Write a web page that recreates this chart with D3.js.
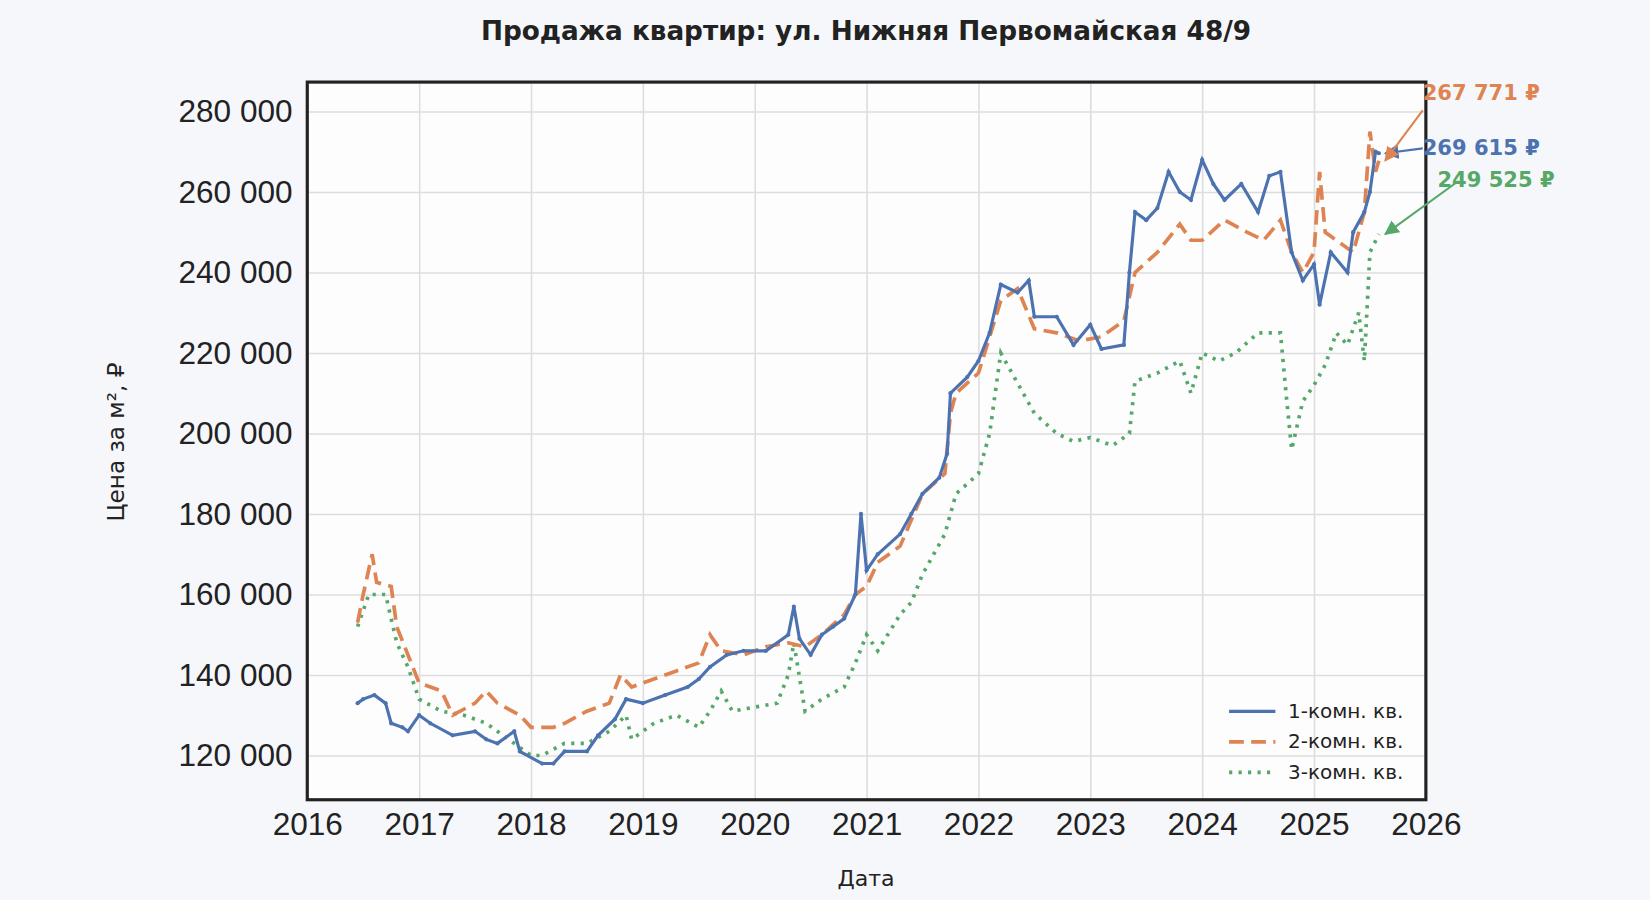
<!DOCTYPE html><html><head><meta charset="utf-8">
<script src="https://cdn.jsdelivr.net/npm/d3@7"></script>
<style>body{margin:0;background:#f6f7fb;font-family:"DejaVu Sans",sans-serif}</style></head><body>
<svg id="c" width="1650" height="900"></svg>
<script>
const yearTicks=[2016,2017,2018,2019,2020,2021,2022,2023,2024,2025,2026];
const priceTicks=[120000,140000,160000,180000,200000,220000,240000,260000,280000];
const seriesNames=["1-комн. кв.","2-комн. кв.","3-комн. кв."];
const colors=["#4c72b0","#dd8452","#55a868"];
const s1=[[2016.45,133000],[2016.5,134000],[2016.6,135000],[2016.7,133000],[2016.75,128000],[2016.85,127000],[2016.9,126000],[2017.0,130000],[2017.1,128000],[2017.3,125000],[2017.5,126000],[2017.6,124000],[2017.7,123000],[2017.85,126000],[2017.9,121000],[2018.1,118000],[2018.2,118000],[2018.3,121000],[2018.5,121000],[2018.6,125000],[2018.75,129000],[2018.85,134000],[2019.0,133000],[2019.2,135000],[2019.4,137000],[2019.5,139000],[2019.6,142000],[2019.75,145000],[2019.9,146000],[2020.1,146000],[2020.3,150000],[2020.35,157000],[2020.4,149000],[2020.5,145000],[2020.6,150000],[2020.7,152000],[2020.8,154000],[2020.9,160000],[2020.95,180000],[2021.0,166000],[2021.1,170000],[2021.3,175000],[2021.4,180000],[2021.5,185000],[2021.65,189000],[2021.72,195000],[2021.75,210000],[2021.9,214000],[2022.0,218000],[2022.1,225000],[2022.2,237000],[2022.35,235000],[2022.45,238000],[2022.5,229000],[2022.7,229000],[2022.85,222000],[2023.0,227000],[2023.1,221000],[2023.3,222000],[2023.35,240000],[2023.4,255000],[2023.5,253000],[2023.6,256000],[2023.7,265000],[2023.8,260000],[2023.9,258000],[2024.0,268000],[2024.1,262000],[2024.2,258000],[2024.35,262000],[2024.5,255000],[2024.6,264000],[2024.7,265000],[2024.8,245000],[2024.9,238000],[2025.0,242000],[2025.05,232000],[2025.15,245000],[2025.3,240000],[2025.35,250000],[2025.45,255000],[2025.5,260000],[2025.55,270000],[2025.58,269615]];
const s2=[[2016.45,153000],[2016.5,160000],[2016.58,170000],[2016.62,163000],[2016.75,162000],[2016.8,152000],[2016.9,145000],[2017.0,138000],[2017.2,136000],[2017.3,130000],[2017.5,133000],[2017.6,136000],[2017.7,133000],[2017.9,130000],[2018.0,127000],[2018.2,127000],[2018.3,128000],[2018.5,131000],[2018.7,133000],[2018.8,140000],[2018.9,137000],[2019.1,139000],[2019.3,141000],[2019.5,143000],[2019.6,150000],[2019.7,146000],[2019.9,145000],[2020.1,147000],[2020.3,148000],[2020.45,147000],[2020.6,150000],[2020.8,155000],[2020.9,160000],[2021.0,162000],[2021.1,168000],[2021.3,172000],[2021.5,185000],[2021.7,190000],[2021.75,205000],[2021.8,210000],[2022.0,215000],[2022.2,233000],[2022.35,236000],[2022.5,226000],[2022.7,225000],[2022.9,223000],[2023.1,224000],[2023.3,228000],[2023.4,240000],[2023.6,245000],[2023.8,252000],[2023.9,248000],[2024.0,248000],[2024.2,253000],[2024.4,250000],[2024.55,248000],[2024.7,253000],[2024.8,245000],[2024.9,240000],[2025.0,245000],[2025.05,265000],[2025.1,250000],[2025.2,248000],[2025.35,245000],[2025.45,255000],[2025.5,275000],[2025.55,265000],[2025.58,267771]];
const s3=[[2016.45,152000],[2016.55,160000],[2016.7,160000],[2016.8,148000],[2016.9,142000],[2017.0,134000],[2017.2,131000],[2017.4,130000],[2017.6,128000],[2017.8,124000],[2018.0,120000],[2018.1,120000],[2018.3,123000],[2018.5,123000],[2018.7,126000],[2018.85,130000],[2018.9,124000],[2019.1,128000],[2019.3,130000],[2019.5,127000],[2019.6,131000],[2019.7,136000],[2019.8,131000],[2020.0,132000],[2020.2,133000],[2020.3,140000],[2020.35,148000],[2020.45,131000],[2020.6,134000],[2020.8,137000],[2020.9,143000],[2021.0,150000],[2021.1,146000],[2021.3,155000],[2021.4,158000],[2021.5,165000],[2021.6,170000],[2021.7,175000],[2021.8,185000],[2022.0,190000],[2022.1,200000],[2022.2,220000],[2022.3,215000],[2022.4,210000],[2022.5,205000],[2022.7,200000],[2022.85,198000],[2023.0,199000],[2023.2,197000],[2023.35,200000],[2023.4,213000],[2023.6,215000],[2023.8,218000],[2023.9,210000],[2024.0,220000],[2024.15,218000],[2024.3,220000],[2024.5,225000],[2024.7,225000],[2024.75,210000],[2024.8,196000],[2024.9,208000],[2025.0,212000],[2025.1,217000],[2025.2,225000],[2025.3,222000],[2025.4,230000],[2025.45,218000],[2025.5,245000],[2025.58,249525]];
const series=[s1,s2,s3];
const lastLabels=["269 615 ₽","267 771 ₽","249 525 ₽"];

const svg=d3.select("#c").append("g").attr("transform","scale(1.0523)");
const L=292,R=1355,T=78,B=760;
const x=d3.scaleLinear().domain([2016,2026]).range([L,R]);
const y=d3.scaleLinear().domain([109000,287300]).range([B,T]);
const fmt=v=>d3.format(",")(v).replace(/,/g," ");
svg.append("rect").attr("x",L).attr("y",T).attr("width",R-L).attr("height",B-T).attr("fill","#fdfdfe");
const gx=svg.append("g").attr("transform",`translate(0,${B})`).call(d3.axisBottom(x).tickValues(yearTicks).tickFormat(d3.format("d")).tickSize(-(B-T)).tickPadding(12));
const gy=svg.append("g").attr("transform",`translate(${L},0)`).call(d3.axisLeft(y).tickValues(priceTicks).tickFormat(fmt).tickSize(-(R-L)).tickPadding(14));
[gx,gy].forEach(g=>{g.select(".domain").remove();g.selectAll("line").attr("stroke","#ddd").attr("stroke-width",1.5);g.selectAll("text").attr("font-size",30).attr("fill","#222");});
svg.append("rect").attr("x",L).attr("y",T).attr("width",R-L).attr("height",B-T).attr("fill","none").attr("stroke","#222").attr("stroke-width",3);
const line=d3.line().x(d=>x(d[0])).y(d=>y(d[1]));
const dashes=[null,"14,7","3,6"];
const widths=[3,3.5,3.5];
[2,1,0].forEach(i=>{svg.append("path").datum(series[i]).attr("d",line).attr("fill","none").attr("stroke",colors[i]).attr("stroke-width",widths[i]).attr("stroke-dasharray",dashes[i]);});
svg.append("g").selectAll("circle").data(s1).join("circle").attr("cx",d=>x(d[0])).attr("cy",d=>y(d[1])).attr("r",2).attr("fill",colors[0]);
const labelPos=[[1352,147],[1352,95],[1366,178]];
svg.append("defs").selectAll("marker").data(colors).join("marker").attr("id",(d,i)=>"m"+i).attr("viewBox","0 0 10 10").attr("refX",9).attr("refY",5).attr("markerWidth",7).attr("markerHeight",7).attr("orient","auto").append("path").attr("d","M0,0L10,5L0,10z").attr("fill",d=>d);
series.forEach((s,i)=>{const last=s[s.length-1];const lp=labelPos[i];
 svg.append("line").attr("x1",lp[0]+(i==2?20:0)).attr("y1",lp[1]+(i==1?10:-6)).attr("x2",x(last[0])+6).attr("y2",y(last[1])).attr("stroke",colors[i]).attr("stroke-width",2).attr("marker-end",`url(#m${i})`);
 svg.append("text").attr("x",lp[0]).attr("y",lp[1]).text(lastLabels[i]).attr("fill",colors[i]).attr("font-size",20).attr("font-weight","bold");});
const lg=svg.append("g").attr("transform","translate(1168,676)");
seriesNames.forEach((n,i)=>{const g=lg.append("g").attr("transform",`translate(0,${i*29})`);
 g.append("line").attr("x1",0).attr("x2",44).attr("stroke",colors[i]).attr("stroke-width",widths[i]).attr("stroke-dasharray",dashes[i]);
 g.append("text").attr("x",56).attr("y",6).text(n).attr("font-size",19).attr("fill","#222");});
svg.append("text").attr("x",823).attr("y",38).attr("text-anchor","middle").text("Продажа квартир: ул. Нижняя Первомайская 48/9").attr("font-size",25).attr("font-weight","bold").attr("fill","#222");
svg.append("text").attr("x",823).attr("y",842).attr("text-anchor","middle").text("Дата").attr("font-size",21).attr("fill","#222");
svg.append("text").attr("transform","translate(118,420) rotate(-90)").attr("text-anchor","middle").text("Цена за м², ₽").attr("font-size",22).attr("fill","#222");
</script></body></html>
